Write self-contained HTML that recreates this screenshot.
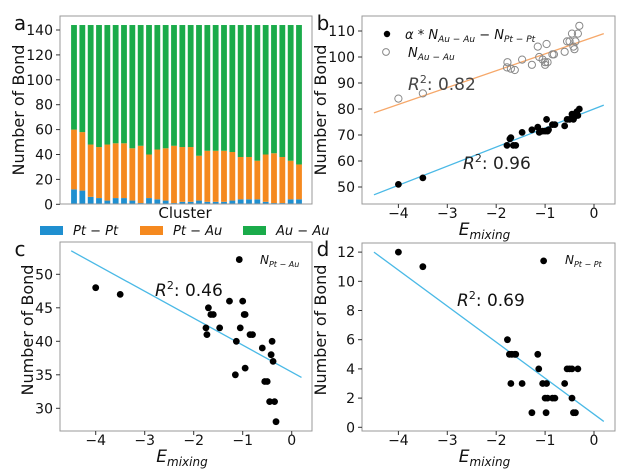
<!DOCTYPE html>
<html><head><meta charset="utf-8">
<style>
body{margin:0;background:#fff;}
svg{display:block;font-family:"DejaVu Sans","Liberation Sans",sans-serif;}
</style></head>
<body>
<svg id="fig" width="628" height="469" viewBox="0 0 628 469" xmlns="http://www.w3.org/2000/svg"></svg>
<script>
// ---- Panel a data ----
const clusterPtPt = [12,11,6,5,3,5,5,3,1,5,4,3,1,2,2,3,2,2,2,3,4,4,4,2,1,1,4,4];
const clusterPtAuTop = [60,58,48,46,48,49,49,45,47,40,44,45,47,46,46,39,43,43,43,42,38,38,35,40,41,38,35,32];
const clusterTotal = [144,144,144,144,144,144,144,144,144,144,144,144,144,144,144,144,144,144,144,144,144,144,144,144,144,144,144,144];
const aTicks = [0,20,40,60,80,100,120,140];
// ---- Panel b data ----
const bFilledX = [-4,-3.5,-1.78,-1.72,-1.7,-1.65,-1.6,-1.47,-1.27,-1.15,-1.12,-1.05,-1,-0.97,-0.95,-0.93,-0.85,-0.8,-0.6,-0.55,-0.5,-0.45,-0.42,-0.4,-0.38,-0.35,-0.33,-0.3];
const bFilledY = [51,53.5,66,68.5,69,66,66,71,72,73,71,71.5,71.5,76,71.5,72,74,74,73.5,76,76,78,76,77,78,79,77.5,80];
const bOpenX = [-4,-3.5,-1.77,-1.78,-1.7,-1.62,-1.47,-1.27,-1.15,-1.12,-1.05,-1,-1.0,-0.97,-0.95,-0.85,-0.82,-0.6,-0.55,-0.5,-0.45,-0.42,-0.4,-0.38,-0.33,-0.3];
const bOpenY = [84,86,98,96,95.5,95,99,97,104,100,99,97,98,105,98,101,101,102,106,106,109,104,103,106,109,112];
const bFitOrange = [[-4.5,78.5],[0.2,109]];
const bFitBlue = [[-4.5,47],[0.2,81.5]];
const bYTicks = [50,60,70,80,90,100,110];
const xTicks = [-4,-3,-2,-1,0];
// ---- Panel c data ----
const cX = [-4,-3.5,-1.75,-1.73,-1.7,-1.65,-1.6,-1.47,-1.27,-1.15,-1.13,-1.07,-1.05,-1,-0.97,-0.95,-0.95,-0.85,-0.8,-0.6,-0.55,-0.5,-0.45,-0.42,-0.4,-0.38,-0.35,-0.32];
const cY = [48,47,42,41,45,44,44,42,46,35,40,52.2,42,46,44,44,36,41,41,39,34,34,31,38,40,37,31,28];
const cFit = [[-4.5,53.5],[0.2,34.6]];
const cYTicks = [30,35,40,45,50];
// ---- Panel d data ----
const dX = [-4,-3.5,-1.77,-1.73,-1.7,-1.68,-1.62,-1.6,-1.47,-1.27,-1.15,-1.13,-1.05,-1.03,-1,-0.98,-0.97,-0.95,-0.85,-0.8,-0.6,-0.55,-0.5,-0.45,-0.45,-0.42,-0.38,-0.33];
const dY = [12,11,6,5,3,5,5,5,3,1,5,4,3,11.4,2,1,3,2,2,2,3,4,4,4,2,1,1,4];
const dFit = [[-4.5,12],[0.2,0.4]];
const dYTicks = [0,2,4,6,8,10,12];

const NS="http://www.w3.org/2000/svg";
const svg=document.getElementById('fig');
function mk(tag,attrs,parent){const e=document.createElementNS(NS,tag);for(const k in attrs)e.setAttribute(k,attrs[k]);(parent||svg).appendChild(e);return e;}
function txt(x,y,s,size,anchor,parent,extra){const t=mk('text',Object.assign({x:x,y:y,'font-size':size,'text-anchor':anchor||'middle',fill:'#111'},extra||{}),parent);t.innerHTML=s;return t;}
const BLUE='#1f8fd0',ORANGE='#f5891f',GREEN='#1aab4a',LINEB='#4ab9e6',LINEO='#f6a86a';

// ================= Panel a =================
const ga=mk('g',{});


const aL=60,aR=312,aT=16,aB=204;
const ay=v=>204.3-v*(174.3/140);
const ax=i=>74+i*(225/27);
const bw=5.8;
for(let i=0;i<clusterTotal.length;i++){
  const r1=mk('rect',{x:ax(i)-bw/2,y:ay(clusterPtPt[i]),width:bw,height:ay(0)-ay(clusterPtPt[i]),fill:BLUE},ga);
  
  
  const r2=mk('rect',{x:ax(i)-bw/2,y:ay(clusterPtAuTop[i]),width:bw,height:ay(clusterPtPt[i])-ay(clusterPtAuTop[i]),fill:ORANGE},ga);
  
  
  const r3=mk('rect',{x:ax(i)-bw/2,y:ay(clusterTotal[i]),width:bw,height:ay(clusterPtAuTop[i])-ay(clusterTotal[i]),fill:GREEN},ga);
  
  
}
const frA=mk('rect',{x:aL,y:aT,width:aR-aL,height:aB-aT,fill:'none',stroke:'#999','stroke-width':1},ga);


aTicks.forEach(v=>{mk('line',{x1:aL-4,x2:aL,y1:ay(v),y2:ay(v),stroke:'#333'},ga);
  const t=txt(aL-7,ay(v)+5,v,14,'end',ga);
  
  });
let t=txt(185,218,'Cluster',15,'middle',ga);


t=txt(0,0,'Number of Bond',16,'middle',ga,{transform:'translate(24,110) rotate(-90)'});


t=txt(20,30,'a',20,'middle',ga);


const leg=[[40,BLUE,'<tspan font-style="italic">Pt</tspan> − <tspan font-style="italic">Pt</tspan>'],[140,ORANGE,'<tspan font-style="italic">Pt</tspan> − <tspan font-style="italic">Au</tspan>'],[243,GREEN,'<tspan font-style="italic">Au</tspan> − <tspan font-style="italic">Au</tspan>']];
leg.forEach(l=>{
  const r=mk('rect',{x:l[0],y:226,width:23,height:9,fill:l[1]},ga);
  
  
  const tt=txt(l[0]+33,235,l[2],13,'start',ga);
  
  
});

// ================= scatter panel helper =================
function axesFrame(g,L,R,T,B,xs,ys,yticks,ylabX,ylabY){
  const fr=mk('rect',{x:L,y:T,width:R-L,height:B-T,fill:'none',stroke:'#999'},g);
  
  
  xTicks.forEach(v=>{mk('line',{x1:xs(v),x2:xs(v),y1:B,y2:B+4,stroke:'#333'},g);
    const tt=txt(xs(v),B+14,v<0?'−'+Math.abs(v):v,14,'middle',g,{'dominant-baseline':'auto'});
    
    });
  yticks.forEach(v=>{mk('line',{x1:L-4,x2:L,y1:ys(v),y2:ys(v),stroke:'#333'},g);
    const tt=txt(L-7,ys(v)+5,v,14,'end',g);
    
    });
  let tt=txt((L+R)/2-4,B+31,'<tspan font-style="italic">E</tspan><tspan font-style="italic" font-size="12" dy="4">mixing</tspan>',17,'middle',g);
  
  
  tt=txt(0,0,'Number of Bond',16,'middle',g,{transform:'translate('+ylabX+','+ylabY+') rotate(-90)'});
  
  
}
function fitLine(g,xs,ys,f,c){const l=mk('line',{x1:xs(f[0][0]),y1:ys(f[0][1]),x2:xs(f[1][0]),y2:ys(f[1][1]),stroke:c,'stroke-width':1.3},g);
  
  }
function dots(g,xs,ys,X,Y,open){for(let i=0;i<X.length;i++){
  const c=mk('circle',{cx:xs(X[i]),cy:ys(Y[i]),r:open?3.6:3.4,fill:open?'none':'#000',stroke:open?'#888':'none','stroke-width':1},g);
  
  }}

const xsR=v=>594+v*48.9;
const xsL=v=>291.7+v*49;

// ================= Panel b =================
const gb=mk('g',{});


const bys=v=>187-(v-50)*2.6;
fitLine(gb,xsR,bys,bFitOrange,LINEO);
fitLine(gb,xsR,bys,bFitBlue,LINEB);
dots(gb,xsR,bys,bOpenX,bOpenY,true);
dots(gb,xsR,bys,bFilledX,bFilledY,false);
axesFrame(gb,362,615,16,204,xsR,bys,bYTicks,326,110);
t=txt(323,30,'b',20,'middle',gb);


let c=mk('circle',{cx:387,cy:34,r:3.2,fill:'#000'},gb);


t=txt(405,39,'<tspan font-style="italic">α</tspan> * <tspan font-style="italic">N</tspan><tspan font-size="9" font-style="italic" dy="3">Au − Au</tspan><tspan dy="-3"> − </tspan><tspan font-style="italic">N</tspan><tspan font-size="9" font-style="italic" dy="3">Pt − Pt</tspan>',13,'start',gb);


c=mk('circle',{cx:386,cy:52,r:3.4,fill:'none',stroke:'#888'},gb);


t=txt(408,57,'<tspan font-style="italic">N</tspan><tspan font-size="9" font-style="italic" dy="3">Au − Au</tspan>',13,'start',gb);


t=txt(408,90,'<tspan font-style="italic">R</tspan><tspan font-size="11" dy="-7">2</tspan><tspan dy="7">: 0.82</tspan>',17,'start',gb,{fill:'#444'});


t=txt(463,169,'<tspan font-style="italic">R</tspan><tspan font-size="11" dy="-7">2</tspan><tspan dy="7">: 0.96</tspan>',17,'start',gb,{fill:'#222'});



// ================= Panel c =================
const gc=mk('g',{});


const cys=v=>274.3-(v-50)*6.7;
fitLine(gc,xsL,cys,cFit,LINEB);
dots(gc,xsL,cys,cX,cY,false);
axesFrame(gc,60,312,242,431,xsL,cys,cYTicks,33,330);
t=txt(20,256,'c',20,'middle',gc);


t=txt(260,264,'<tspan font-style="italic">N</tspan><tspan font-size="8" font-style="italic" dy="3">Pt − Au</tspan>',12,'start',gc);


t=txt(155,296,'<tspan font-style="italic">R</tspan><tspan font-size="11" dy="-7">2</tspan><tspan dy="7">: 0.46</tspan>',17,'start',gc);



// ================= Panel d =================
const gd=mk('g',{});


const dys=v=>427.3-v*14.6;
fitLine(gd,xsR,dys,dFit,LINEB);
dots(gd,xsR,dys,dX,dY,false);
axesFrame(gd,362,615,243,431,xsR,dys,dYTicks,326,330);
t=txt(323,256,'d',20,'middle',gd);


t=txt(565,264,'<tspan font-style="italic">N</tspan><tspan font-size="8" font-style="italic" dy="3">Pt − Pt</tspan>',12,'start',gd);


t=txt(457,306,'<tspan font-style="italic">R</tspan><tspan font-size="11" dy="-7">2</tspan><tspan dy="7">: 0.69</tspan>',17,'start',gd);


</script>
</body></html>
